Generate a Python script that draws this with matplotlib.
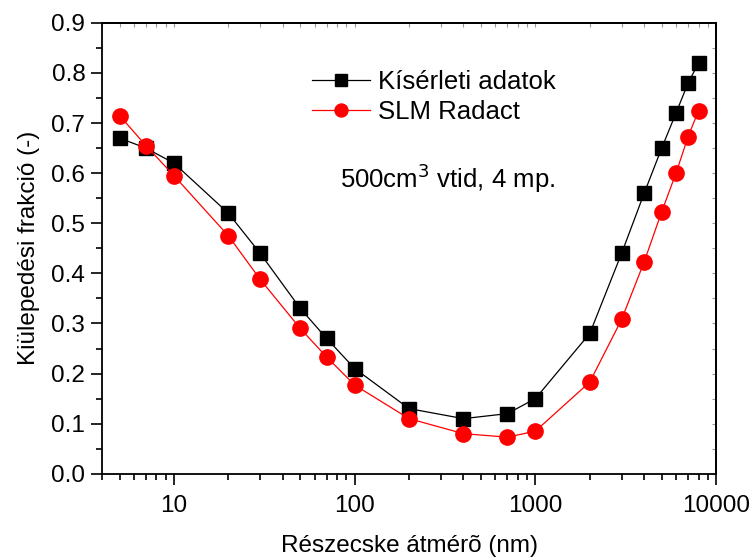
import matplotlib
matplotlib.use("Agg")
import matplotlib.pyplot as plt
from matplotlib.ticker import FixedLocator, LogLocator, NullFormatter, FormatStrFormatter, MultipleLocator

plt.rcParams['font.family'] = ['Liberation Sans', 'DejaVu Sans']

diameter_nm = [5, 7, 10, 20, 30, 50, 70, 100, 200, 400, 700, 1000,
               2000, 3000, 4000, 5000, 6000, 7000, 8000]
measured = [0.67, 0.65, 0.62, 0.52, 0.44, 0.33, 0.27, 0.21, 0.13, 0.11, 0.12, 0.15,
            0.28, 0.44, 0.56, 0.65, 0.72, 0.78, 0.82]
model = [0.715, 0.655, 0.595, 0.475, 0.388, 0.29, 0.233, 0.177, 0.11, 0.08, 0.073, 0.085,
         0.183, 0.308, 0.423, 0.523, 0.60, 0.673, 0.725]

series_labels = ["Kísérleti adatok", "SLM Radact"]
x_ticks = [10, 100, 1000, 10000]
x_tick_labels = ["10", "100", "1000", "10000"]

FS = 17.5

fig = plt.figure(figsize=(7.53, 5.58), dpi=100)
ax = fig.add_axes([0.1355, 0.151, 0.8155, 0.808])

ax.plot(diameter_nm, measured, color='black', lw=0.9, marker='s', ms=10,
        mfc='black', mec='black', label=series_labels[0], zorder=3)
ax.plot(diameter_nm, model, color='red', lw=0.9, marker='o', ms=11,
        mfc='red', mec='red', label=series_labels[1], zorder=3)

ax.set_xscale('log')
ax.set_xlim(4, 10000)
ax.set_ylim(0, 0.9)

ax.xaxis.set_major_locator(FixedLocator(x_ticks))
ax.set_xticklabels(x_tick_labels)
ax.xaxis.set_minor_locator(LogLocator(base=10, subs=range(2, 10), numticks=20))
ax.xaxis.set_minor_formatter(NullFormatter())
ax.yaxis.set_major_locator(MultipleLocator(0.1))
ax.yaxis.set_minor_locator(MultipleLocator(0.05))
ax.yaxis.set_major_formatter(FormatStrFormatter('%.1f'))

ax.tick_params(axis='both', which='major', direction='out', length=8, width=1.2,
               labelsize=FS, pad=4)
ax.tick_params(axis='both', which='minor', direction='out', length=4, width=1.2)
ax.tick_params(axis='x', which='major', pad=7)
for s in ax.spines.values():
    s.set_linewidth(1.3)

# faint inward ticks on the top and right frame
top = ax.secondary_xaxis('top')
top.xaxis.set_major_locator(FixedLocator(x_ticks))
top.xaxis.set_minor_locator(LogLocator(base=10, subs=range(2, 10), numticks=20))
top.tick_params(which='both', direction='in', length=3, width=0.8, colors='#999999',
                labeltop=False)
top.spines['top'].set_color('black')
top.spines['top'].set_linewidth(1.3)
right = ax.secondary_yaxis('right')
right.yaxis.set_major_locator(MultipleLocator(0.1))
right.yaxis.set_minor_locator(MultipleLocator(0.05))
right.tick_params(which='both', direction='in', length=3, width=0.8, colors='#999999',
                  labelright=False)
right.spines['right'].set_color('black')
right.spines['right'].set_linewidth(1.3)

ax.set_xlabel("Részecske átmérõ (nm)", fontsize=FS, labelpad=13)
ax.set_ylabel("Kiülepedési frakció (-)", fontsize=FS, labelpad=8)

leg = ax.legend(loc='upper left', bbox_to_anchor=(0.342, 0.896), frameon=False,
                fontsize=FS + 1, handlelength=2.26, handletextpad=0.3, labelspacing=0.25,
                borderaxespad=0, borderpad=0, markerscale=0.85)

ax.text(0.388, 0.656, "500cm$^3$ vtid, 4 mp.", transform=ax.transAxes,
        fontsize=FS + 1, ha='left', va='center')

fig.savefig("out.png", dpi=100)
